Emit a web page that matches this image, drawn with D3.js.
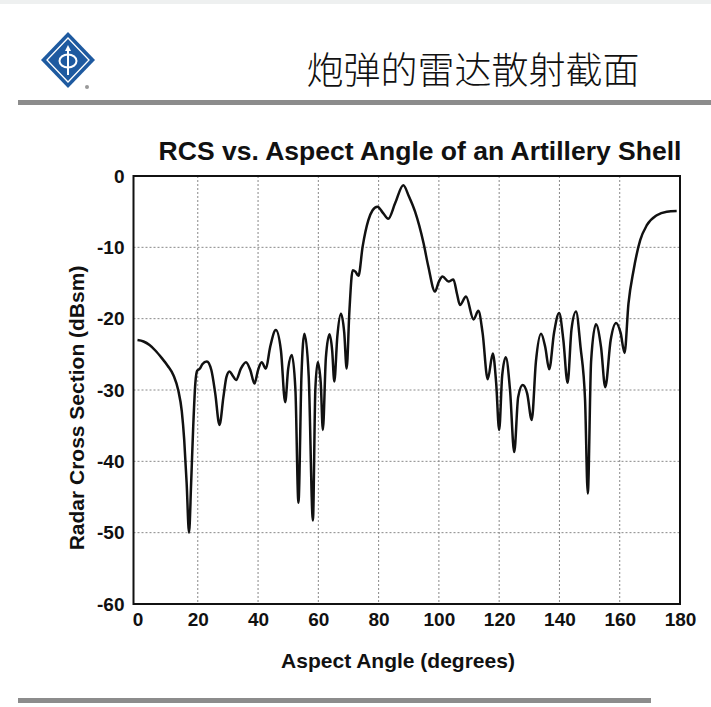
<!DOCTYPE html>
<html>
<head>
<meta charset="utf-8">
<script src="https://cdn.jsdelivr.net/npm/d3@7"></script>
<style>
  html, body { margin: 0; padding: 0; background: #fff; }
  svg { display: block; }
</style>
</head>
<body>
<svg id="chart" width="711" height="707"></svg>
<script>
// ---- data ----
const pageTitle = "炮弹的雷达散射截面";
const chartTitle = "RCS vs. Aspect Angle of an Artillery Shell";
const xLabel = "Aspect Angle (degrees)";
const yLabel = "Radar Cross Section (dBsm)";
const xTicks = [0, 20, 40, 60, 80, 100, 120, 140, 160, 180];
const yTicks = [0, -10, -20, -30, -40, -50, -60];
const angles = [
  0, 2, 4, 6, 8, 10, 12, 13.5, 14.7, 15.5, 16.3, 17.1, 17.8, 18.5, 19.2, 19.8, 20.7, 21.5, 23,
  24.5, 25.8, 27.2, 28.5, 29.5, 30.5, 31.6, 32.7, 34.3, 36, 37.5, 38.8, 40, 41.2, 42.6, 44,
  45.9, 47.6, 49, 50, 51.2, 52.4, 53.4, 54.4, 55.4, 56.8, 58.2, 59, 59.8, 60.8, 61.5, 62.5,
  63.7, 64.6, 65.3, 66.3, 67.5, 68.6, 69.4, 70.3, 71.4, 72.3, 73.3, 74.7, 76.6, 78, 79.6,
  81.5, 83.2, 85.5, 88.2, 90, 92.1, 94.9, 96.5, 98.7, 100, 101.2, 103.2, 104.8, 106, 107,
  109, 111.5, 113.1, 114.5, 116.2, 117.9, 119, 120, 121, 122.2, 123.6, 125, 126.3, 127.8,
  129.3, 130.8, 132.2, 133.9, 135.3, 136.6, 138.2, 139.9, 141.3, 142.7, 144, 145.5, 147,
  148.5, 149.4, 150.5, 152.1, 153.8, 155.2, 157, 158.8, 160.3, 161.6, 162.9, 164.6, 166.8,
  169, 172.3, 175.6, 178.9
];
const rcs = [
  -23.0, -23.2, -23.7, -24.5, -25.5, -26.6, -28.0, -30.0, -33, -37, -43, -50, -43, -35, -29, -27.3, -27.0, -26.4, -26.0,
  -27.2, -30.5, -34.9, -31, -28.2, -27.4, -28.0, -28.6, -27.0, -26.1, -27.3, -29.1, -27.2, -26.1, -27.0, -24,
  -21.6, -24.5, -31.7, -27, -25.1, -30, -45.8, -28, -22.1, -28, -48.3, -30, -26.1, -29, -35.6, -25.5,
  -22.2, -24.5, -28.8, -22.5, -19.3, -22, -27.0, -19, -13.2, -13.4, -14.0, -9.9, -6.2, -4.8, -4.3,
  -5.2, -6.0, -3.8, -1.3, -2.8, -5.0, -9.4, -12.7, -16.2, -14.8, -14.1, -14.8, -14.5, -16.5, -18.1,
  -16.9, -20.1, -18.9, -22, -28.5, -24.9, -29, -35.6, -28, -25.4, -30, -38.7, -31, -29.3,
  -30.5, -34.2, -26, -22.1, -24, -27.1, -22, -19.2, -23, -29.0, -21.5, -19.0, -24,
  -31.4, -44.5, -26, -20.8, -24, -29.6, -23, -20.6, -22, -24.8, -17.9, -13.2, -9.0,
  -6.9, -5.5, -5.0, -4.9
];

// ---- layout ----
const svg = d3.select("#chart");
const font = "'Liberation Sans', Arial, sans-serif";
const pL = 137.5, pR = 680, pT = 176, pB = 604;

const x = d3.scaleLinear().domain([0, 180]).range([pL, pR]);
const y = d3.scaleLinear().domain([0, -60]).range([pT, pB]);

// header
svg.append("rect").attr("x", 0).attr("y", 0).attr("width", 711).attr("height", 4).attr("fill", "#eef0f0");

// logo
const logo = svg.append("g").attr("transform", "translate(68,60)");
logo.append("path").attr("d", "M0,-28 L27,0 L0,28 L-27,0 Z").attr("fill", "#1e5aa0");
logo.append("path").attr("d", "M0,-22 L21,0 L0,22 L-21,0 Z").attr("fill", "none").attr("stroke", "#fff").attr("stroke-width", 1.3);
logo.append("ellipse").attr("cx", 0).attr("cy", 1).attr("rx", 8.5).attr("ry", 6.5).attr("fill", "none").attr("stroke", "#fff").attr("stroke-width", 2);
logo.append("line").attr("x1", 0).attr("y1", -13).attr("x2", 0).attr("y2", 15).attr("stroke", "#fff").attr("stroke-width", 2);
logo.append("path").attr("d", "M-3,-9 L0,-15 L3,-9 Z").attr("fill", "#fff");
logo.append("circle").attr("cx", 19).attr("cy", 27).attr("r", 2).attr("fill", "#999");

svg.append("text").attr("x", 473).attr("y", 68)
  .attr("text-anchor", "middle").attr("dominant-baseline", "central")
  .style("font-family", "'Noto Sans CJK SC', sans-serif").style("font-size", "37px")
  .style("font-weight", "300")
  .attr("fill", "#111").text(pageTitle);

svg.append("rect").attr("x", 18).attr("y", 100).attr("width", 693).attr("height", 5).attr("fill", "#8c8c8c");
svg.append("rect").attr("x", 18).attr("y", 698).attr("width", 633).attr("height", 5).attr("fill", "#8c8c8c");

// chart title
svg.append("text").attr("x", 420).attr("y", 151)
  .attr("text-anchor", "middle").attr("dominant-baseline", "central")
  .style("font-family", font).style("font-size", "26.5px").style("font-weight", "bold")
  .attr("fill", "#111").text(chartTitle);

// grid
const grid = svg.append("g");
grid.selectAll("line.vx").data(xTicks.slice(1, -1)).enter().append("line")
  .attr("x1", d => x(d)).attr("x2", d => x(d)).attr("y1", pT).attr("y2", pB)
  .attr("stroke", "#888").attr("stroke-width", 1).attr("stroke-dasharray", "2,2");
grid.selectAll("line.hy").data(yTicks.slice(1, -1)).enter().append("line")
  .attr("y1", d => y(d)).attr("y2", d => y(d)).attr("x1", pL - 4).attr("x2", pR)
  .attr("stroke", "#888").attr("stroke-width", 1).attr("stroke-dasharray", "2,2");

// axes labels via d3 axes
const fmt = d => String(d);
const xAxis = svg.append("g").attr("transform", `translate(0,${pB})`)
  .call(d3.axisBottom(x).tickValues(xTicks).tickFormat(fmt).tickSize(0).tickPadding(9));
const yAxis = svg.append("g").attr("transform", `translate(${pL - 7},0)`)
  .call(d3.axisLeft(y).tickValues(yTicks).tickFormat(fmt).tickSize(0).tickPadding(6));
[xAxis, yAxis].forEach(a => {
  a.select(".domain").remove();
  a.selectAll("text").style("font-family", font).style("font-size", "19px")
    .style("font-weight", "bold").attr("fill", "#111");
});

// frame
svg.append("rect").attr("x", pL - 4).attr("y", pT).attr("width", pR - pL + 4).attr("height", pB - pT)
  .attr("fill", "none").attr("stroke", "#111").attr("stroke-width", 2);

// curve
const pts = angles.map((a, i) => [a, rcs[i]]);
svg.append("path").datum(pts)
  .attr("d", d3.line().x(d => x(d[0])).y(d => y(d[1])).curve(d3.curveMonotoneX))
  .attr("fill", "none").attr("stroke", "#111").attr("stroke-width", 2.5)
  .attr("stroke-linejoin", "round");

// axis titles
svg.append("text").attr("x", 398).attr("y", 660)
  .attr("text-anchor", "middle").attr("dominant-baseline", "central")
  .style("font-family", font).style("font-size", "21px").style("font-weight", "bold")
  .attr("fill", "#111").text(xLabel);
svg.append("text").attr("transform", "translate(76,408) rotate(-90)")
  .attr("text-anchor", "middle").attr("dominant-baseline", "central")
  .style("font-family", font).style("font-size", "21px").style("font-weight", "bold")
  .attr("fill", "#111").text(yLabel);
</script>
</body>
</html>
